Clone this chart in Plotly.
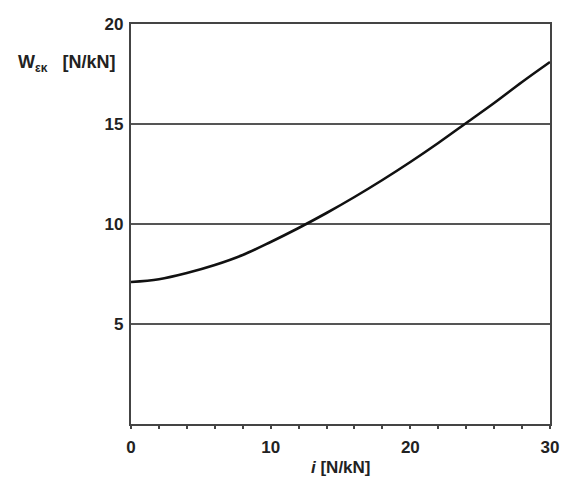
import plotly.graph_objects as go

# Resistance curve: W_εκ [N/kN] against i [N/kN]
i_values = [0, 2, 4, 6, 8, 10, 12, 14, 16, 18, 20, 22, 24, 26, 28, 30]
w_values = [7.1, 7.24, 7.55, 7.95, 8.45, 9.1, 9.8, 10.55, 11.35, 12.2, 13.1, 14.05, 15.05, 16.05, 17.1, 18.1]

x_ticks = [0, 10, 20, 30]
y_ticks = [5, 10, 15, 20]
grid_levels = [5, 10, 15]

FONT = "Liberation Sans, Arial, sans-serif"
INK = "#222222"
FRAME = "#444444"

fig = go.Figure()

fig.add_trace(go.Scatter(
    x=i_values, y=w_values, mode="lines",
    line=dict(color="#111111", width=2.6, shape="spline", smoothing=1.0),
    hoverinfo="skip", showlegend=False,
))

for lvl in grid_levels:
    fig.add_shape(type="line", xref="x", yref="y", x0=0, x1=30, y0=lvl, y1=lvl,
                  line=dict(color="#555555", width=2.2), layer="below")

fig.update_xaxes(
    range=[0, 30], tickvals=x_ticks, showgrid=False, zeroline=False,
    showline=True, linecolor=FRAME, linewidth=2.2, mirror=True,
    ticks="outside", ticklen=3, tickwidth=1.5, tickcolor=FRAME,
    minor=dict(dtick=2, ticks="outside", ticklen=3, tickwidth=1.5, tickcolor=FRAME),
    tickfont=dict(family=FONT, size=17, color=INK, weight="bold"),
    ticklabelstandoff=3, ticklabeloverflow="allow",
)
fig.update_yaxes(
    range=[0, 20], tickvals=y_ticks, showgrid=False, zeroline=False,
    showline=True, linecolor=FRAME, linewidth=2.2, mirror=True,
    ticks="", tickfont=dict(family=FONT, size=17, color=INK, weight="bold"),
    ticklabelstandoff=2,
)

fig.add_annotation(
    xref="paper", yref="paper", x=(14 - 131) / 428, y=(424 - 63) / 400,
    xanchor="left", yanchor="middle", showarrow=False,
    text="<b>W<sub><span style='font-size:12px'>εκ</span></sub>&nbsp;&nbsp;&nbsp;[N/kN]</b>",
    font=dict(family=FONT, size=18, color=INK),
)
fig.add_annotation(
    xref="paper", yref="paper", x=0.5, y=(424 - 467) / 400,
    xanchor="center", yanchor="middle", showarrow=False,
    text="<b><i>i</i> [N/kN]</b>",
    font=dict(family=FONT, size=17, color=INK),
)

fig.update_layout(
    width=570, height=485,
    margin=dict(l=131, r=11, t=24, b=61),
    paper_bgcolor="white", plot_bgcolor="white",
)

fig.write_html("out.html")
